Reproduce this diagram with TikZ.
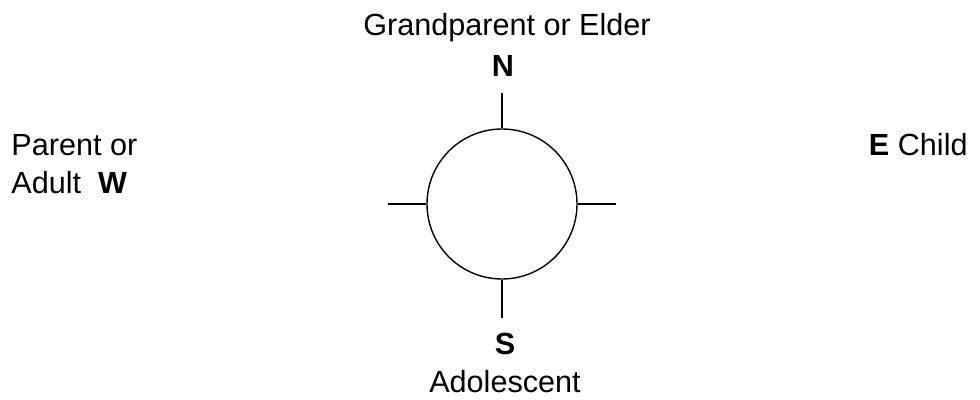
\documentclass[tikz,border=0pt]{standalone}
\usepackage{fontspec}
\setmainfont{Liberation Sans}
\usetikzlibrary{positioning}

\tikzset{
  lbl/.style = {inner sep=0pt, font=\fontsize{15.3}{18}\selectfont},
  tick/.style = {line width=0.7pt}
}

\begin{document}
\begin{tikzpicture}[x=0.5pt, y=-0.5pt]
            \useasboundingbox (0,0) rectangle (980,400);
            % circle
            \node[draw, circle, line width=0.7pt, minimum size=75pt, inner sep=0pt](ring)at(502,204){};
            % tick ends
            \coordinate(tN)at(502,93);
            \coordinate(tS)at(502,318);
            \coordinate(tW)at(388,204);
            \coordinate(tE)at(616,204);
            \path[draw, tick](ring.north)to(tN);
            \path[draw, tick](ring.south)to(tS);
            \path[draw, tick](ring.west)to(tW);
            \path[draw, tick](ring.east)to(tE);
            % north
            \node[lbl, anchor=base](elder)at(507,36){Grandparent or Elder};
            \node[lbl, anchor=base](north)at(503,77){\textbf{N}};
            % south
            \node[lbl, anchor=base](south)at(505,355){\textbf{S}};
            \node[lbl, anchor=base](teen)at(505,393){Adolescent};
            % west
            \node[lbl, anchor=base west](parent)at(11,156){Parent or};
            \node[lbl, anchor=base west](west)at(11,194){Adult\ \ \textbf{W}};
            % east
            \node[lbl, anchor=base east](east)at(968,156){\textbf{E} Child};
        \end{tikzpicture}
\end{document}
